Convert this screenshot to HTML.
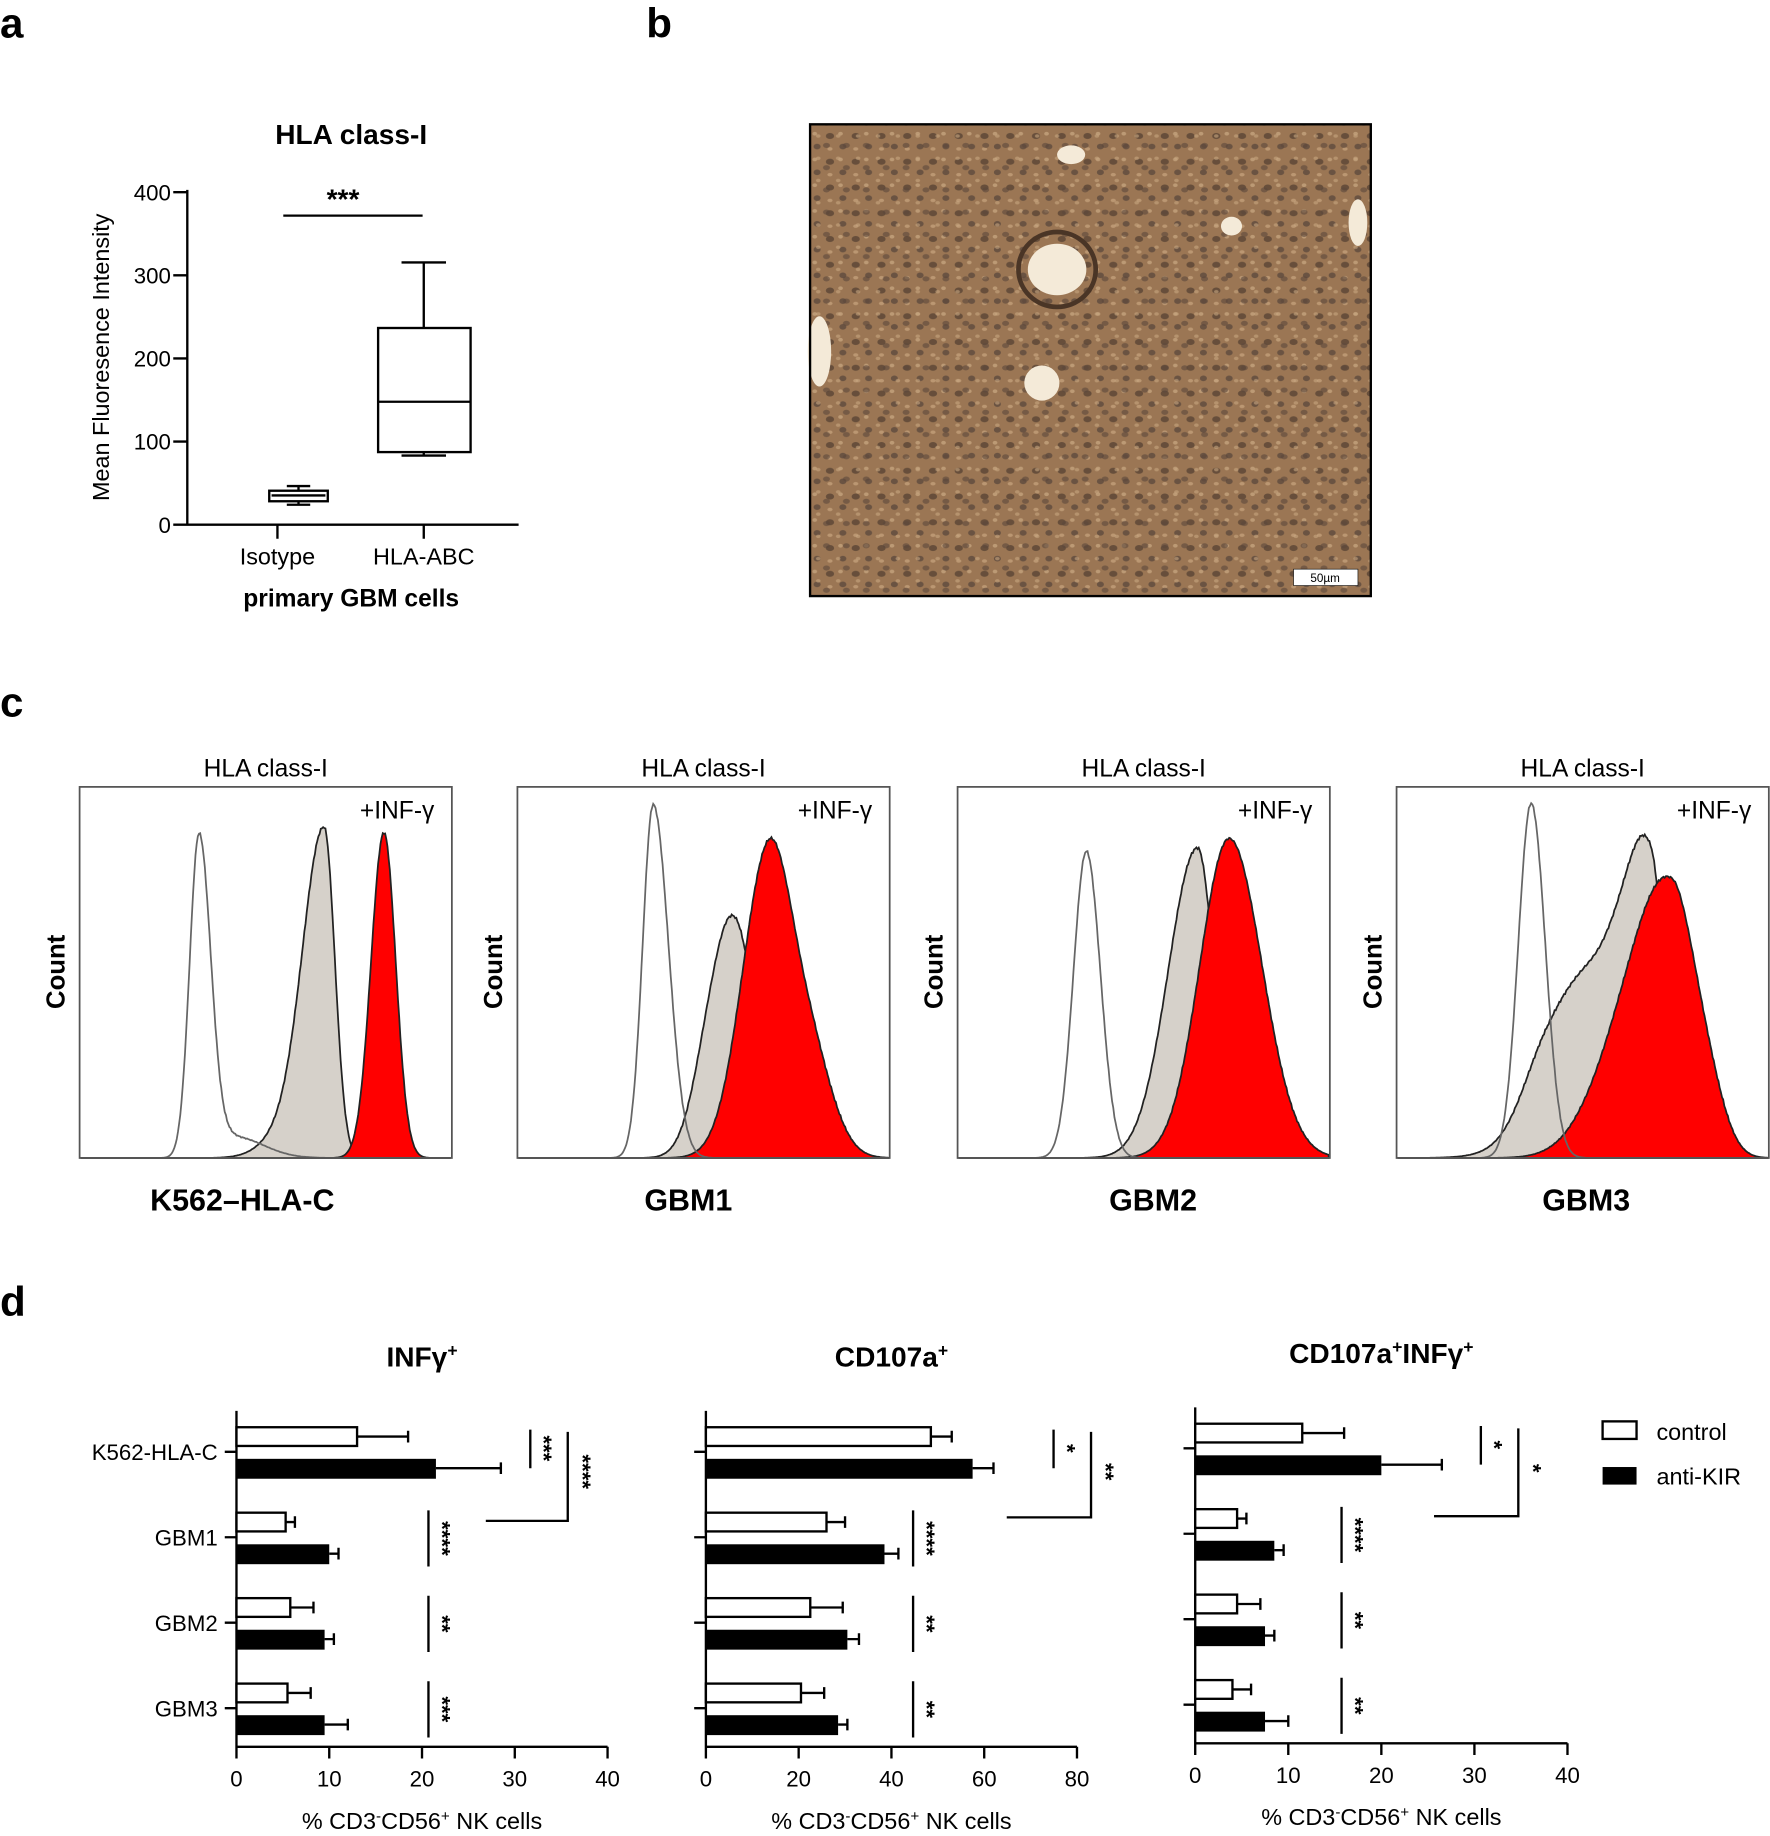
<!DOCTYPE html>
<html><head><meta charset="utf-8"><style>
html,body{margin:0;padding:0;background:#fff}
svg{display:block}
text{font-family:"Liberation Sans",sans-serif;fill:#000}
</style></head><body>
<svg id="s" width="1770" height="1836" viewBox="0 0 1512 1568" xmlns="http://www.w3.org/2000/svg">
<defs>
<pattern id="tex" width="22" height="22" patternUnits="userSpaceOnUse">
<rect width="22" height="22" fill="#9a7553"/>
<ellipse cx="5" cy="6" rx="3.5" ry="2.6" fill="#4f3c30"/>
<ellipse cx="16" cy="15" rx="3" ry="2.4" fill="#54423a"/>
<ellipse cx="14" cy="4" rx="2" ry="1.6" fill="#c9a883"/>
<ellipse cx="5" cy="17" rx="2.2" ry="1.5" fill="#c7a47f"/>
</pattern>
<pattern id="tex2" width="17" height="19" patternUnits="userSpaceOnUse">
<ellipse cx="9" cy="10" rx="3" ry="2.2" fill="#3f3230" opacity="0.6"/>
<ellipse cx="2" cy="2" rx="2" ry="1.5" fill="#d8b993" opacity="0.6"/>
</pattern>
</defs>
<g font-weight="bold" font-size="36"><text x="0" y="32">a</text><text x="552" y="32">b</text><text x="0" y="612">c</text><text x="0" y="1124">d</text></g>

<!-- panel a -->
<g stroke="#000" stroke-width="2" fill="none">
<path d="M160 162V448M148 164H160M148 235H160M148 306H160M148 377H160M148 448H443M237 448V460M362 448V460"/>
<path d="M242 184H361"/>
<rect x="230" y="419" width="50" height="9"/><path d="M232 423H278M255 419V415M255 428V431M245 415H265M245 431H265"/>
<rect x="323" y="280" width="79" height="106"/><path d="M323 343H402M362 280V224M343 224H381M362 386V389M343 389H381"/>
</g>
<g font-size="19" text-anchor="end"><text x="146" y="171">400</text><text x="146" y="242">300</text><text x="146" y="313">200</text><text x="146" y="384">100</text><text x="146" y="455">0</text></g>
<text x="300" y="123" font-size="24" font-weight="bold" text-anchor="middle">HLA class-I</text>
<text x="293" y="178" font-size="24" font-weight="bold" text-anchor="middle">***</text>
<text x="237" y="482" font-size="20" text-anchor="middle">Isotype</text>
<text x="362" y="482" font-size="20" text-anchor="middle">HLA-ABC</text>
<text x="300" y="518" font-size="21" font-weight="bold" text-anchor="middle">primary GBM cells</text>
<text transform="translate(93,305) rotate(-90)" font-size="20" text-anchor="middle">Mean Fluoresence Intensity</text>

<!-- panel b -->
<rect x="692" y="106" width="479" height="403" fill="url(#tex)"/>
<rect x="692" y="106" width="479" height="403" fill="url(#tex2)"/>
<rect x="692" y="106" width="479" height="403" fill="#a07a55" opacity="0.3"/>
<g fill="#f4ead8"><ellipse cx="903" cy="230" rx="25" ry="22"/><ellipse cx="890" cy="327" rx="15" ry="15"/><ellipse cx="700" cy="300" rx="10" ry="30"/><ellipse cx="1052" cy="193" rx="9" ry="8"/><ellipse cx="1160" cy="190" rx="8" ry="20"/><ellipse cx="915" cy="132" rx="12" ry="8"/></g>
<ellipse cx="903" cy="230" rx="33" ry="32" fill="none" stroke="#4a3526" stroke-width="4"/>
<rect x="692" y="106" width="479" height="403" fill="none" stroke="#000" stroke-width="2"/>
<rect x="1105" y="486" width="55" height="14" fill="#fff" stroke="#000" stroke-width="0.5"/>
<text x="1132" y="497" font-size="10" text-anchor="middle">50µm</text>

<!-- panel c -->
<g id="hists"></g>

<!-- panel d -->
<g id="bars"></g>
<g font-size="20">
<rect x="1369" y="1214" width="29" height="15" fill="#fff" stroke="#000" stroke-width="2"/><text x="1415" y="1230">control</text>
<rect x="1369" y="1253" width="29" height="15" fill="#000"/><text x="1415" y="1268">anti-KIR</text>
</g>
</svg>
<script>
const NS="http://www.w3.org/2000/svg";
function el(p,tag,attrs,txt){const e=document.createElementNS(NS,tag);for(const k in attrs)e.setAttribute(k,attrs[k]);if(txt!==undefined)e.textContent=txt;p.appendChild(e);return e;}
const H=document.getElementById('hists');
function curve(x0,x1,base,comps){
  let d='M'+x0+' '+base;
  for(let x=x0;x<=x1;x+=1){
    let v=0;
    for(const c of comps){const s=x<c.m?c.sl:c.sr;v+=c.h*Math.exp(-0.5*((x-c.m)/s)**2);}
    let noise=(Math.sin(x*1.7)+Math.sin(x*3.1))*0.6*Math.min(1,v/40);
    d+=' L'+x+' '+(base-Math.max(0,v+noise)).toFixed(1);
  }
  return d+' L'+x1+' '+base+' Z';
}
const panels=[
 {x:68,title:'HLA class-I',name:'K562–HLA-C',nx:207,
  w:[{m:170,h:275,sl:8,sr:10},{m:200,h:18,sl:15,sr:25}],
  g:[{m:277,h:277,sl:18,sr:9},{m:245,h:20,sl:20,sr:20}],
  r:[{m:328,h:278,sl:11,sr:10}]},
 {x:442,title:'HLA class-I',name:'GBM1',nx:588,
  w:[{m:558,h:302,sl:9,sr:13}],
  g:[{m:628,h:185,sl:20,sr:18},{m:605,h:40,sl:15,sr:20}],
  r:[{m:655,h:236,sl:22,sr:20},{m:690,h:90,sl:25,sr:20}]},
 {x:818,title:'HLA class-I',name:'GBM2',nx:985,
  w:[{m:928,h:262,sl:11,sr:12}],
  g:[{m:1023,h:265,sl:25,sr:14}],
  r:[{m:1050,h:273,sl:25,sr:28}]},
 {x:1193,title:'HLA class-I',name:'GBM3',nx:1355,
  w:[{m:1308,h:303,sl:11,sr:12}],
  g:[{m:1410,h:205,sl:20,sr:12},{m:1370,h:150,sl:40,sr:30},{m:1320,h:40,sl:20,sr:30}],
  r:[{m:1428,h:210,sl:30,sr:20},{m:1385,h:70,sl:30,sr:30},{m:1460,h:40,sl:15,sr:15}]}
];
for(const p of panels){
  const x0=p.x,x1=p.x+318,base=989;
  el(H,'path',{d:curve(x0+1,x1-1,base,p.g),fill:'#d6d1ca',stroke:'#222','stroke-width':1.5});
  el(H,'path',{d:curve(x0+1,x1-1,base,p.r),fill:'#ff0000',stroke:'#222','stroke-width':1.5});
  el(H,'path',{d:curve(x0+1,x1-1,base,p.w),fill:'none',stroke:'#666','stroke-width':1.5});
  el(H,'rect',{x:x0,y:672,width:318,height:317,fill:'none',stroke:'#555','stroke-width':1.5});
  el(H,'text',{x:x0+159,y:663,'font-size':21,'text-anchor':'middle'},p.title);
  el(H,'text',{x:x1-15,y:699,'font-size':21,'text-anchor':'end'},'+INF-γ');
  el(H,'text',{transform:'translate('+(x0-13)+',830) rotate(-90)','font-size':22,'font-weight':'bold','text-anchor':'middle'},'Count');
  el(H,'text',{x:p.nx,y:1034,'font-size':26,'font-weight':'bold','text-anchor':'middle'},p.name);
}
const B=document.getElementById('bars');
const charts=[
 {x0:202,x1:519,max:40,ticks:[0,10,20,30,40],title:'INFγ',sup:'+',dy:0,lab:true,
  v:[[13,5.5,21.5,7],[5.3,1,10,1],[5.8,2.5,9.5,1],[5.5,2.5,9.5,2.5]],
  sig:{inner:453,innerT:'***',outer:485,outerT:'****',hx:415,hy:1299,rx:366,rows:['****','**','***']}},
 {x0:603,x1:920,max:80,ticks:[0,20,40,60,80],title:'CD107a',sup:'+',dy:0,lab:false,
  v:[[48.5,4.5,57.5,4.5],[26,4,38.5,3],[22.5,7,30.5,2.5],[20.5,5,28.5,2]],
  sig:{inner:900,innerT:'*',outer:932,outerT:'**',hx:860,hy:1296,rx:780,rows:['****','**','**']}},
 {x0:1021,x1:1339,max:40,ticks:[0,10,20,30,40],title:'CD107a',sup:'+',title2:'INFγ',dy:-3,lab:false,
  v:[[11.5,4.5,20,6.5],[4.5,1,8.5,1],[4.5,2.5,7.5,1],[4,2,7.5,2.5]],
  sig:{inner:1265,innerT:'*',outer:1297,outerT:'*',hx:1225,hy:1295,rx:1146,rows:['****','**','**']}}
];
const rowY=[1219,1292,1365,1438],names=['K562-HLA-C','GBM1','GBM2','GBM3'];
for(const c of charts){
  const sc=(c.x1-c.x0)/c.max,dy=c.dy;
  const ax=el(B,'path',{d:'',stroke:'#000','stroke-width':2,fill:'none'});
  let d='M'+c.x0+' '+(1205+dy)+'V'+(1492+dy)+'H'+c.x1;
  for(const t of c.ticks){const x=c.x0+t*sc;d+='M'+x+' '+(1492+dy)+'V'+(1502+dy);
    el(B,'text',{x:x,y:1526+dy,'font-size':19,'text-anchor':'middle'},t);}
  for(let i=0;i<4;i++){const y=rowY[i]+dy;d+='M'+(c.x0-10)+' '+(y+21)+'H'+c.x0;
    if(c.lab)el(B,'text',{x:c.x0-16,y:y+28,'font-size':19,'text-anchor':'end'},names[i]);
    const v=c.v[i];
    el(B,'rect',{x:c.x0,y:y,width:v[0]*sc,height:16,fill:'#fff',stroke:'#000','stroke-width':2});
    el(B,'rect',{x:c.x0,y:y+27,width:v[2]*sc,height:17,fill:'#000'});
    const e1=c.x0+(v[0]+v[1])*sc,e2=c.x0+(v[2]+v[3])*sc;
    d+='M'+(c.x0+v[0]*sc)+' '+(y+8)+'H'+e1+'M'+e1+' '+(y+3)+'V'+(y+13);
    d+='M'+(c.x0+v[2]*sc)+' '+(y+35)+'H'+e2+'M'+e2+' '+(y+30)+'V'+(y+40);
    if(i>0){const rx=c.sig.rx;d+='M'+rx+' '+(y-2)+'V'+(y+46);
      el(B,'text',{transform:'translate('+(rx+5)+','+(y+22)+') rotate(90)','font-size':19,'font-weight':'bold','text-anchor':'middle'},c.sig.rows[i-1]);}
  }
  const s=c.sig,y0=1219+dy;
  d+='M'+s.inner+' '+(y0+2)+'V'+(y0+35);
  d+='M'+s.outer+' '+(y0+4)+'V'+s.hy+'H'+s.hx;
  ax.setAttribute('d',d);
  el(B,'text',{transform:'translate('+(s.inner+5)+','+(y0+18)+') rotate(90)','font-size':19,'font-weight':'bold','text-anchor':'middle'},s.innerT);
  el(B,'text',{transform:'translate('+(s.outer+6)+','+(y0+38)+') rotate(90)','font-size':19,'font-weight':'bold','text-anchor':'middle'},s.outerT);
  const mid=(c.x0+c.x1)/2;
  const t=el(B,'text',{x:mid,y:1167+dy,'font-size':24,'font-weight':'bold','text-anchor':'middle'});
  t.innerHTML=c.title2?'CD107a<tspan baseline-shift="super" font-size="15">+</tspan>INFγ<tspan baseline-shift="super" font-size="15">+</tspan>':c.title+'<tspan baseline-shift="super" font-size="15">+</tspan>';
  const xl=el(B,'text',{x:mid,y:1562+dy,'font-size':20,'text-anchor':'middle'});
  xl.innerHTML='% CD3<tspan baseline-shift="super" font-size="13">-</tspan>CD56<tspan baseline-shift="super" font-size="13">+</tspan> NK cells';
}
</script>
</body></html>
